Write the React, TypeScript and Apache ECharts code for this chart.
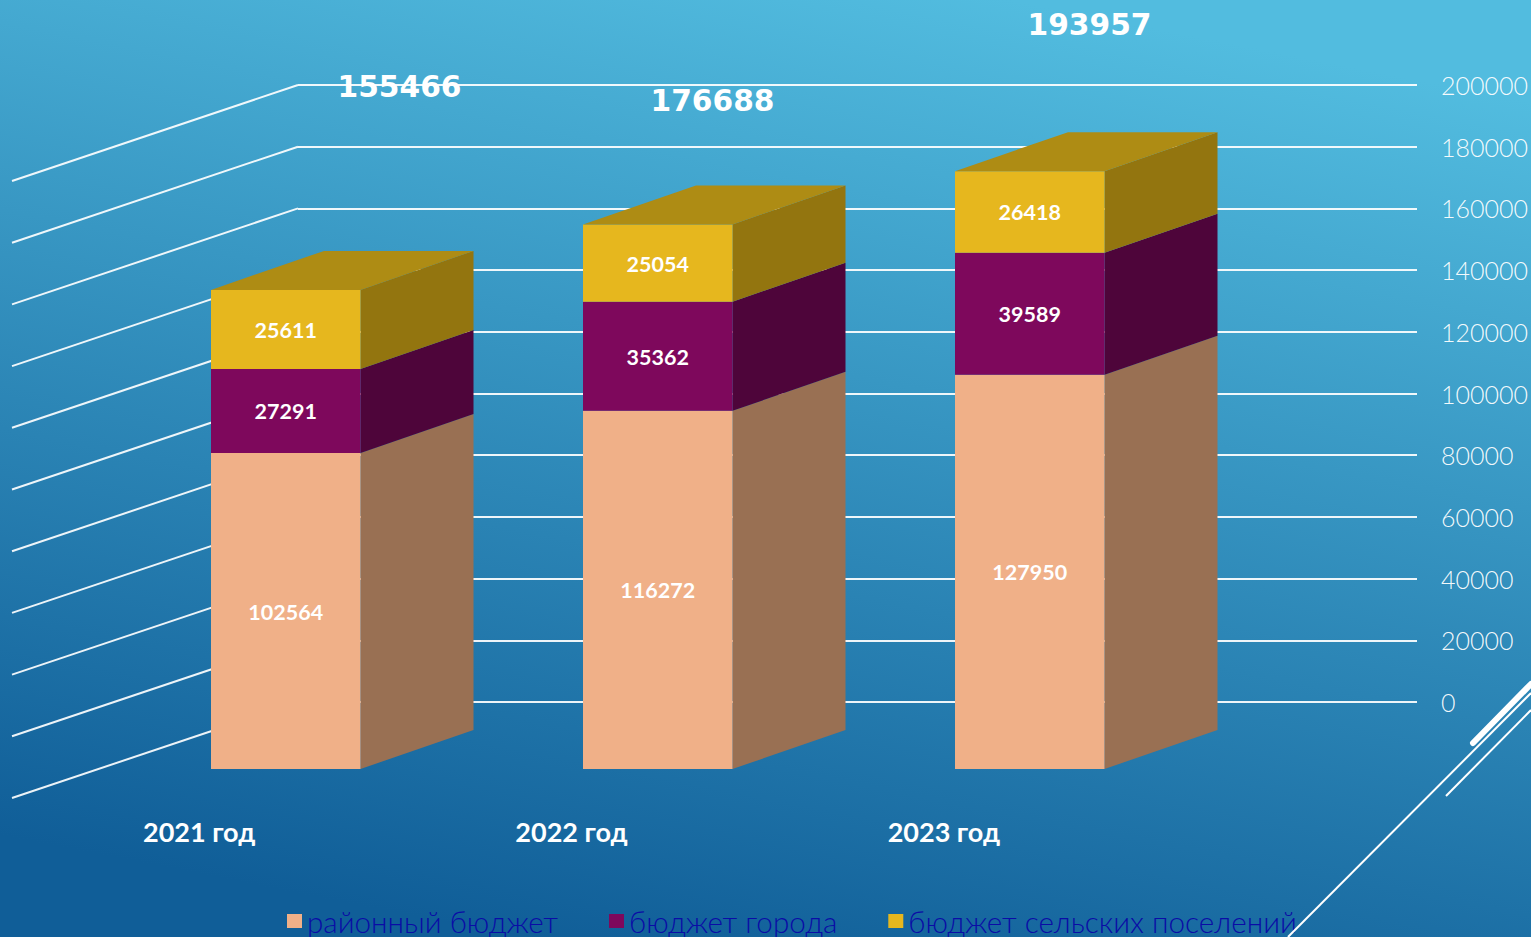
import React, { useEffect, useRef } from "react";
import * as echarts from "echarts";

const categories = ["2021 год", "2022 год", "2023 год"];
const districtBudget = [102564, 116272, 127950];
const cityBudget = [27291, 35362, 39589];
const ruralBudget = [25611, 25054, 26418];
const totals = [155466, 176688, 193957];
const yTicks = [0, 20000, 40000, 60000, 80000, 100000, 120000, 140000, 160000, 180000, 200000];
const seriesNames = ["районный бюджет", "бюджет города", "бюджет сельских поселений"];

const FONT = "Lato, 'Open Sans', sans-serif";
const BAR_W = 149.5;
const DEPTH_X = 113;
const DEPTH_Y = 39;
const BAR_SHIFT_X = [-273.5, -274.5, -275.5];
const BAR_SHIFT_Y = 67.5;
const totalShift = [
  { x: -85, y: -203.5 },
  { x: -145, y: -124 },
  { x: -141, y: -146.5 },
];

const faces = [
  { front: "#f0b088", side: "#997053", top: "#997053" },
  { front: "#7e085c", side: "#4e053a", top: "#4e053a" },
  { front: "#e6b71e", side: "#93750f", top: "#ae8c14" },
];

function stackSeries(index: number, values: number[], below: number[], isTop: boolean) {
  const face = faces[index];
  return {
    type: "custom",
    name: seriesNames[index],
    coordinateSystem: "cartesian2d",
    xAxisIndex: 0,
    yAxisIndex: 0,
    clip: false,
    silent: true,
    z: 5 + index,
    itemStyle: { color: face.front },
    encode: { x: 0, y: [1, 2] },
    data: values.map((v, i) => [i, below[i], below[i] + v, v]),
    renderItem: (_p: any, api: any) => {
      const cat = api.value(0);
      const a = api.coord([cat, api.value(1)]);
      const b = api.coord([cat, api.value(2)]);
      const x0 = a[0] + BAR_SHIFT_X[cat];
      const x1 = x0 + BAR_W;
      const y0 = Math.min(a[1] + BAR_SHIFT_Y, 769);
      const y1 = b[1] + BAR_SHIFT_Y;
      const children: any[] = [
        {
          type: "polygon",
          shape: { points: [[x1, y0], [x1 + DEPTH_X, y0 - DEPTH_Y], [x1 + DEPTH_X, y1 - DEPTH_Y], [x1, y1]] },
          style: { fill: face.side },
        },
        {
          type: "rect",
          shape: { x: x0, y: y1, width: BAR_W, height: y0 - y1 },
          style: { fill: face.front },
        },
      ];
      if (isTop) {
        children.push({
          type: "polygon",
          shape: { points: [[x0, y1], [x1, y1], [x1 + DEPTH_X, y1 - DEPTH_Y], [x0 + DEPTH_X, y1 - DEPTH_Y]] },
          style: { fill: face.top },
        });
      }
      children.push({
        type: "text",
        style: {
          text: String(api.value(3)),
          x: (x0 + x1) / 2,
          y: (y0 + y1) / 2 + 0.5,
          align: "center",
          verticalAlign: "middle",
          fill: "#ffffff",
          font: `bold 21.5px ${FONT}`,
        },
      });
      return { type: "group", children };
    },
  };
}

export default function App() {
  const ref = useRef<HTMLDivElement>(null);
  useEffect(() => {
    document.body.style.margin = "0";
    const chart = echarts.init(ref.current!, undefined, { renderer: "svg" });
    const cityBelow = districtBudget;
    const ruralBelow = districtBudget.map((v, i) => v + cityBudget[i]);
    chart.setOption({
      animation: false,
      backgroundColor: new echarts.graphic.LinearGradient(0.66, 0, 0.34, 1, [
        { offset: 0, color: "#52bcdf" },
        { offset: 1, color: "#105e98" },
      ]),
      grid: [
        { left: 298, width: 1119, top: 85, height: 617, outerBoundsMode: "none" },
        { left: 13, width: 1117, top: 181, height: 617, outerBoundsMode: "none" },
      ],
      xAxis: [
        {
          type: "category",
          gridIndex: 0,
          data: categories,
          axisLine: { show: false },
          axisTick: { show: false },
          axisLabel: { show: false },
        },
        {
          type: "category",
          gridIndex: 1,
          data: categories,
          axisLine: { show: false },
          axisTick: { show: false },
          axisLabel: { margin: 20, color: "#ffffff", fontFamily: FONT, fontWeight: "bold", fontSize: 27 },
        },
      ],
      yAxis: [
        {
          type: "value",
          gridIndex: 0,
          position: "right",
          min: 0,
          max: 200000,
          interval: 20000,
          axisLine: { show: false },
          axisTick: { show: false },
          axisLabel: {
            margin: 24,
            color: "rgba(255,255,255,0.95)",
            fontFamily: FONT,
            fontWeight: 300,
            fontSize: 25,
            formatter: (v: number) => String(v),
          },
          splitLine: { show: true, lineStyle: { color: "rgba(255,255,255,0.92)", width: 2 } },
        },
        { type: "value", gridIndex: 1, min: 0, max: 200000, show: false },
      ],
      legend: {
        data: seriesNames,
        left: 287,
        top: 906,
        padding: 0,
        itemWidth: 15,
        itemHeight: 14,
        itemGap: 51,
        icon: "rect",
        textStyle: { color: "#0a0ca6", fontFamily: FONT, fontWeight: 300, fontSize: 29.7 },
      },
      series: [
        {
          type: "custom",
          name: "grid-floor",
          coordinateSystem: "cartesian2d",
          xAxisIndex: 0,
          yAxisIndex: 0,
          clip: false,
          silent: true,
          z: 2,
          encode: { x: 0, y: 1 },
          data: yTicks.map((t) => [0, t]),
          renderItem: (params: any, api: any) => {
            const p = api.coord([api.value(0), api.value(1)]);
            const left = params.coordSys.x;
            return {
              type: "line",
              shape: { x1: left, y1: p[1], x2: left - 286, y2: p[1] + 96 },
              style: { stroke: "rgba(255,255,255,0.92)", lineWidth: 2 },
            };
          },
        },
        stackSeries(0, districtBudget, [0, 0, 0], false),
        stackSeries(1, cityBudget, cityBelow, false),
        stackSeries(2, ruralBudget, ruralBelow, true),
        {
          type: "custom",
          name: "totals",
          coordinateSystem: "cartesian2d",
          xAxisIndex: 0,
          yAxisIndex: 0,
          clip: false,
          silent: true,
          z: 10,
          encode: { x: 0, y: 1 },
          data: totals.map((t, i) => [i, t]),
          renderItem: (_p: any, api: any) => {
            const i = api.value(0);
            const p = api.coord([i, api.value(1)]);
            return {
              type: "text",
              style: {
                text: String(api.value(1)),
                x: p[0] + totalShift[i].x,
                y: p[1] + BAR_SHIFT_Y + totalShift[i].y,
                align: "center",
                verticalAlign: "middle",
                fill: "#ffffff",
                font: "bold 29.7px 'DejaVu Sans', sans-serif",
              },
            };
          },
        },
      ],
      graphic: [
        { type: "line", z: 20, shape: { x1: 1288, y1: 937, x2: 1531, y2: 693 }, style: { stroke: "#ffffff", lineWidth: 2 } },
        { type: "line", z: 20, shape: { x1: 1446, y1: 796, x2: 1531, y2: 710 }, style: { stroke: "#ffffff", lineWidth: 2 } },
        { type: "line", z: 20, shape: { x1: 1473, y1: 743, x2: 1531, y2: 684 }, style: { stroke: "#ffffff", lineWidth: 6, lineCap: "round" } },
      ],
    });
    return () => chart.dispose();
  }, []);
  return <div ref={ref} style={{ width: 1531, height: 937, overflow: "hidden" }} />;
}
